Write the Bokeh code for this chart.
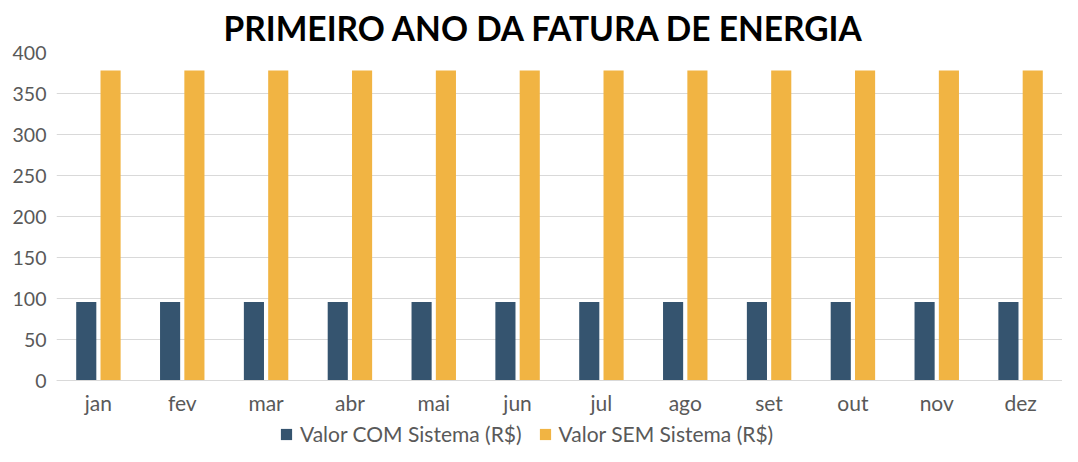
from bokeh.plotting import figure
from bokeh.models import FactorRange, Legend, LegendItem, Title, ColumnDataSource
from bokeh.transform import dodge
from bokeh.embed import file_html
from bokeh.resources import INLINE

months = ["jan", "fev", "mar", "abr", "mai", "jun", "jul", "ago", "set", "out", "nov", "dez"]
com_sistema = [96, 96, 96, 96, 96, 96, 96, 96, 96, 96, 96, 96]
sem_sistema = [378, 378, 378, 378, 378, 378, 378, 378, 378, 378, 378, 378]
y_ticks = [0, 50, 100, 150, 200, 250, 300, 350, 400]

src = ColumnDataSource(dict(month=months, com=com_sistema, sem=sem_sistema))

FONT = "Lato"
GRAY = "#595959"

# frame extends below zero so the legend can sit inside it; the x axis is pinned at y=0
p = figure(width=1062, height=446, x_range=FactorRange(factors=months), y_range=(-80, 400),
           output_backend="svg", toolbar_location=None, min_border_left=0,
           min_border_right=0, min_border_top=0, min_border_bottom=0)
p.title = Title(text="PRIMEIRO ANO DA FATURA DE ENERGIA", text_font=FONT, text_font_size="33.5px",
                text_font_style="bold", text_color="#000000", align="left", standoff=10,
                offset=167)
p.outline_line_color = None

r1 = p.vbar(x=dodge("month", -0.145, range=p.x_range), top="com", width=0.24, source=src,
            fill_color="#35546F", line_color=None)
r2 = p.vbar(x=dodge("month", 0.145, range=p.x_range), top="sem", width=0.24, source=src,
            fill_color="#F1B443", line_color=None)

p.yaxis.ticker = y_ticks
p.yaxis.axis_line_color = None
p.yaxis.major_tick_line_color = None
p.yaxis.minor_tick_line_color = None
p.yaxis.major_label_text_font = FONT
p.yaxis.major_label_text_font_size = "19.5px"
p.yaxis.major_label_text_color = GRAY
p.yaxis.major_label_standoff = 4
p.yaxis.axis_label = " "
p.yaxis.axis_label_text_font_size = "5px"
p.yaxis.axis_label_standoff = 0

p.xaxis.fixed_location = 0
p.xaxis.axis_line_color = "#D9D9D9"
p.xaxis.axis_line_width = 1
p.xaxis.major_tick_line_color = None
p.xaxis.minor_tick_line_color = None
p.xaxis.major_label_text_font = FONT
p.xaxis.major_label_text_font_size = "21px"
p.xaxis.major_label_text_color = GRAY
p.xaxis.major_label_standoff = 3

p.xgrid.grid_line_color = None
p.ygrid.grid_line_color = "#D9D9D9"
p.ygrid.grid_line_width = 1

legend = Legend(items=[LegendItem(label="Valor COM Sistema (R$)", renderers=[r1]),
                       LegendItem(label="Valor SEM Sistema (R$)", renderers=[r2])],
                orientation="horizontal", location=(223, 0), label_text_font=FONT,
                label_text_font_size="21px", label_text_color=GRAY, glyph_width=14,
                glyph_height=14, label_standoff=7, spacing=16, padding=0, margin=0,
                border_line_color=None, background_fill_alpha=0)
p.add_layout(legend, "center")

open("out.html", "w").write(file_html(p, INLINE))
